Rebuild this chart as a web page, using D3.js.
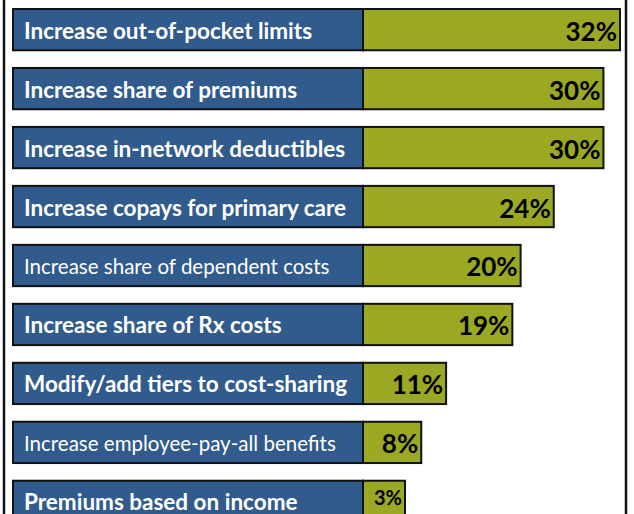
<!DOCTYPE html>
<html lang="en">
<head>
  <meta charset="UTF-8">
  <title>Cost-sharing changes</title>
  <script src="https://d3js.org/d3.v7.min.js"></script>
  <style>
    body { margin: 0; background: #fff; }
    svg { display: block; }
    .label { fill: #fff; font-family: Lato, "Open Sans", sans-serif; }
    .value { fill: #000; font-family: Lato, "Open Sans", sans-serif; font-weight: bold; }
  </style>
</head>
<body>

<svg width="634" height="514"></svg>

<script>
const categories = [
  "Increase out-of-pocket limits",
  "Increase share of premiums",
  "Increase in-network deductibles",
  "Increase copays for primary care",
  "Increase share of dependent costs",
  "Increase share of Rx costs",
  "Modify/add tiers to cost-sharing",
  "Increase employee-pay-all benefits",
  "Premiums based on income"
];
const values = [32, 30, 30, 24, 20, 19, 11, 8, 3];
const boldLabel = [true, true, true, true, false, true, true, false, true];

const width = 634, height = 514;
const svg = d3.select("svg");

svg.append("rect").attr("width", width).attr("height", height).attr("fill", "#fff");

// frame (top and bottom are cut off in the original)
svg.append("line").attr("x1", 4).attr("x2", 4).attr("y1", 0).attr("y2", height)
  .attr("stroke", "#111").attr("stroke-width", 2.5);
svg.append("line").attr("x1", 626).attr("x2", 626).attr("y1", 0).attr("y2", height)
  .attr("stroke", "#111").attr("stroke-width", 2.5);

const y = d3.scaleBand()
  .domain(categories)
  .range([9, 522])
  .paddingInner(0.3)
  .paddingOuter(0);

const boxLeft = 13, barStart = 363, minBar = 42;
const x = d3.scaleLinear().domain([0, 32]).range([355, 620]);

const rows = svg.selectAll(".row")
  .data(categories.map((c, i) => ({ name: c, value: values[i], bold: boldLabel[i] })))
  .enter()
  .append("g")
  .attr("class", "row")
  .attr("transform", d => `translate(0,${y(d.name)})`);

rows.append("rect")
  .attr("x", boxLeft)
  .attr("width", barStart - boxLeft)
  .attr("height", y.bandwidth())
  .attr("fill", "#315b8c")
  .attr("stroke", "#111")
  .attr("stroke-width", 2);

rows.append("rect")
  .attr("x", barStart)
  .attr("width", d => Math.max(x(d.value), barStart + minBar) - barStart)
  .attr("height", y.bandwidth())
  .attr("fill", "#9ba823")
  .attr("stroke", "#111")
  .attr("stroke-width", 2);

rows.append("text")
  .attr("class", "label")
  .attr("x", 24)
  .attr("y", y.bandwidth() / 2 + 9)
  .attr("font-size", d => d.bold ? 22.5 : 20.5)
  .attr("font-weight", d => d.bold ? "bold" : "normal")
  .text(d => d.name);

rows.append("text")
  .attr("class", "value")
  .attr("x", d => Math.max(x(d.value), barStart + minBar) - 3)
  .attr("y", d => d.value < 5 ? 24 : y.bandwidth() / 2 + 11)
  .attr("text-anchor", "end")
  .attr("font-size", d => d.value < 5 ? 20 : 26)
  .text(d => d.value + "%");
</script>

</body>
</html>
